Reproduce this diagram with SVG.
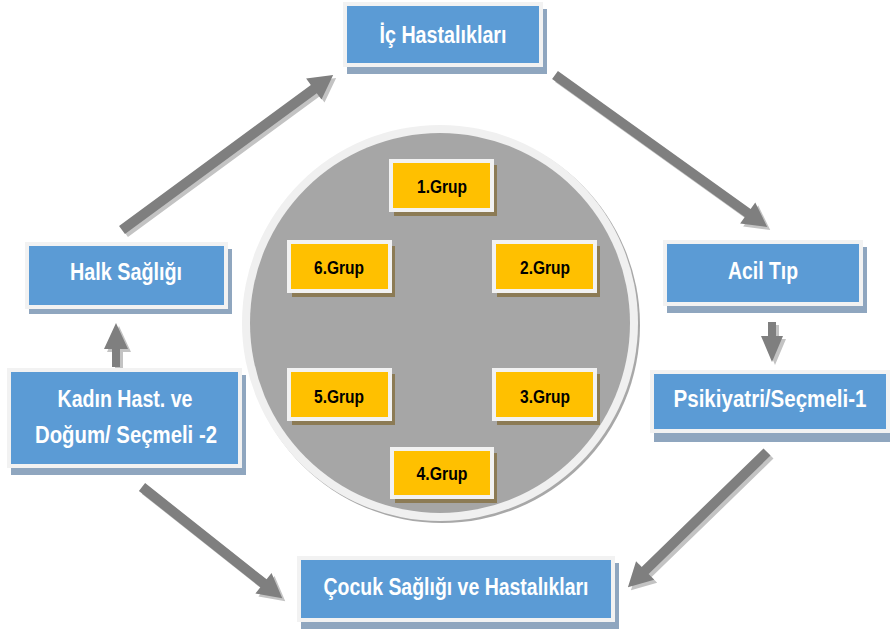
<svg xmlns="http://www.w3.org/2000/svg" xmlns:xlink="http://www.w3.org/1999/xlink" width="890" height="631" viewBox="0 0 890 631">
<style>
.bshadow{fill:#8fa6bf}
.box{fill:#5b9bd5;stroke:#f2f2f2;stroke-width:4}
.btxt{font-family:"Liberation Sans Narrow","Liberation Sans",sans-serif;font-weight:bold;font-size:23px;fill:#ffffff;text-anchor:middle}
.gshadow{fill:#8c7b55}
.gbox{fill:#ffc000;stroke:#f2f2f2;stroke-width:4}
.gtxt{font-family:"Liberation Sans Narrow","Liberation Sans",sans-serif;font-weight:bold;font-size:19px;fill:#000000;text-anchor:middle}
.arr{fill:#7f7f7f}
.arrs{fill:#c3c3c3}
</style>
<defs>
<path id="a1" d="M0,-5 H238 V-13 L262,0 L238,13 V5 H0 Z"/>
<path id="a2" d="M0,-5 H237 V-13 L261,0 L237,13 V5 H0 Z"/>
<path id="a3" d="M0,-4 H14 V-11 L40,0 L14,11 V4 H0 Z"/>
<path id="a4" d="M0,-5 H170 V-13 L194,0 L170,13 V5 H0 Z"/>
<path id="a5" d="M0,-5 H155 V-13 L179,0 L155,13 V5 H0 Z"/>
<path id="a6" d="M0,-4 H18 V-12 L44,0 L18,12 V4 H0 Z"/>
</defs>
<rect width="890" height="631" fill="#ffffff"/>

<g id="circle">
<circle cx="442" cy="325" r="198" fill="#a8a8a8"/>
<circle cx="440" cy="323" r="198" fill="#f0f0f0"/>
<circle cx="440" cy="323" r="190" fill="#a6a6a6"/>
</g>

<g id="connectors">
<g transform="translate(3,3)">
<use xlink:href="#a1" class="arrs" transform="translate(122,230) rotate(-36.3)"/>
<use xlink:href="#a2" class="arrs" transform="translate(555,75) rotate(35.6)"/>
<use xlink:href="#a3" class="arrs" transform="translate(772,322) rotate(90)"/>
<use xlink:href="#a4" class="arrs" transform="translate(767,452) rotate(135.8)"/>
<use xlink:href="#a5" class="arrs" transform="translate(142,487) rotate(38.4)"/>
<use xlink:href="#a6" class="arrs" transform="translate(116,367) rotate(-90)"/>
</g>
<use xlink:href="#a1" class="arr" transform="translate(122,230) rotate(-36.3)"/>
<use xlink:href="#a2" class="arr" transform="translate(555,75) rotate(35.6)"/>
<use xlink:href="#a3" class="arr" transform="translate(772,322) rotate(90)"/>
<use xlink:href="#a4" class="arr" transform="translate(767,452) rotate(135.8)"/>
<use xlink:href="#a5" class="arr" transform="translate(142,487) rotate(38.4)"/>
<use xlink:href="#a6" class="arr" transform="translate(116,367) rotate(-90)"/>
</g>

<g id="ic">
<rect class="bshadow" x="347" y="9" width="200" height="65"/>
<rect class="box" x="345" y="4" width="196" height="61"/>
<text class="btxt" x="443" y="43" textLength="127" lengthAdjust="spacingAndGlyphs">İç Hastalıkları</text>
</g>
<g id="halk">
<rect class="bshadow" x="29" y="249" width="203" height="65"/>
<rect class="box" x="27" y="244" width="199" height="63"/>
<text class="btxt" x="126" y="280" textLength="112" lengthAdjust="spacingAndGlyphs">Halk Sağlığı</text>
</g>
<g id="kadin">
<rect class="bshadow" x="11" y="375" width="235" height="100"/>
<rect class="box" x="9" y="370" width="231" height="96"/>
<text class="btxt" x="125" y="407" textLength="135" lengthAdjust="spacingAndGlyphs">Kadın Hast. ve</text>
<text class="btxt" x="126" y="443" textLength="182" lengthAdjust="spacingAndGlyphs">Doğum/ Seçmeli -2</text>
</g>
<g id="acil">
<rect class="bshadow" x="667" y="247" width="200" height="66"/>
<rect class="box" x="665" y="242" width="196" height="62"/>
<text class="btxt" x="763" y="279" textLength="70" lengthAdjust="spacingAndGlyphs">Acil Tıp</text>
</g>
<g id="psik">
<rect class="bshadow" x="654" y="377" width="240" height="65"/>
<rect class="box" x="652" y="372" width="236" height="59"/>
<text class="btxt" x="770" y="407" textLength="193" lengthAdjust="spacingAndGlyphs">Psikiyatri/Seçmeli-1</text>
</g>
<g id="cocuk">
<rect class="bshadow" x="301" y="563" width="318" height="66"/>
<rect class="box" x="299" y="558" width="314" height="62"/>
<text class="btxt" x="456" y="595" textLength="265" lengthAdjust="spacingAndGlyphs">Çocuk Sağlığı ve Hastalıkları</text>
</g>

<g id="g1">
<rect class="gshadow" x="394" y="165" width="103" height="51"/>
<rect class="gbox" x="391" y="161" width="101" height="49"/>
<text class="gtxt" x="442" y="193" textLength="50" lengthAdjust="spacingAndGlyphs">1.Grup</text>
</g>
<g id="g6">
<rect class="gshadow" x="292" y="246" width="103" height="51"/>
<rect class="gbox" x="289" y="242" width="101" height="49"/>
<text class="gtxt" x="339" y="274" textLength="50" lengthAdjust="spacingAndGlyphs">6.Grup</text>
</g>
<g id="g2">
<rect class="gshadow" x="497" y="246" width="103" height="51"/>
<rect class="gbox" x="494" y="242" width="101" height="49"/>
<text class="gtxt" x="545" y="274" textLength="50" lengthAdjust="spacingAndGlyphs">2.Grup</text>
</g>
<g id="g5">
<rect class="gshadow" x="292" y="374" width="103" height="51"/>
<rect class="gbox" x="289" y="370" width="101" height="49"/>
<text class="gtxt" x="339" y="403" textLength="50" lengthAdjust="spacingAndGlyphs">5.Grup</text>
</g>
<g id="g3">
<rect class="gshadow" x="497" y="374" width="103" height="51"/>
<rect class="gbox" x="494" y="370" width="101" height="49"/>
<text class="gtxt" x="545" y="403" textLength="50" lengthAdjust="spacingAndGlyphs">3.Grup</text>
</g>
<g id="g4">
<rect class="gshadow" x="395" y="453" width="102" height="50"/>
<rect class="gbox" x="392" y="449" width="100" height="48"/>
<text class="gtxt" x="442" y="480" textLength="51" lengthAdjust="spacingAndGlyphs">4.Grup</text>
</g>
</svg>
